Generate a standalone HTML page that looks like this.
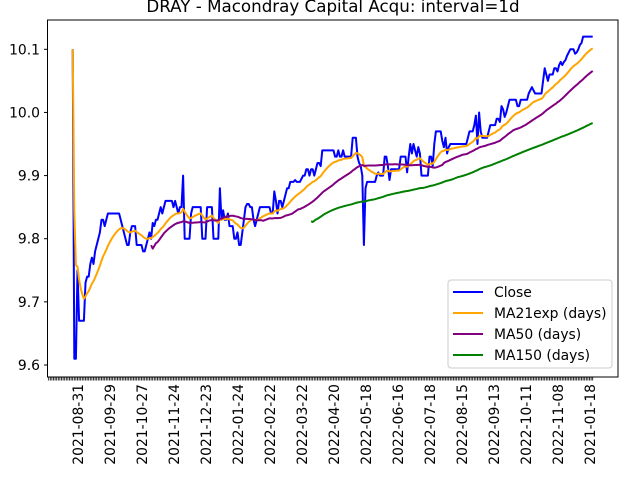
<!DOCTYPE html>
<html><head><meta charset="utf-8"><style>
html,body{margin:0;padding:0;background:#fff;}
svg{display:block;font-family:"DejaVu Sans","Liberation Sans",sans-serif;}
</style></head><body>
<svg id="chart" width="640" height="480" viewBox="0 0 640 480" xmlns="http://www.w3.org/2000/svg">
<rect x="0" y="0" width="640" height="480" fill="#fff"/>
<text x="333" y="12" text-anchor="middle" font-size="16.7" fill="#000">DRAY - Macondray Capital Acqu: interval=1d</text>
<g id="series"></g>
<rect x="47.5" y="20" width="570.5" height="357" fill="none" stroke="#000" stroke-width="1"/>
<g id="yaxis"></g>
<g id="xaxis"></g>
<g>
<rect x="448" y="280" width="164" height="88" rx="3" fill="#fff" fill-opacity="0.8" stroke="#ccc" stroke-width="1"/>
<g><line x1="453" y1="292" x2="483" y2="292" stroke="#0000ff" stroke-width="2"/><text x="494" y="297" font-size="13.9">Close</text></g>
<g><line x1="453" y1="313" x2="483" y2="313" stroke="#ffa500" stroke-width="2"/><text x="494" y="318" font-size="13.9">MA21exp (days)</text></g>
<g><line x1="453" y1="334" x2="483" y2="334" stroke="#800080" stroke-width="2"/><text x="494" y="339" font-size="13.9">MA50 (days)</text></g>
<g><line x1="453" y1="355" x2="483" y2="355" stroke="#008000" stroke-width="2"/><text x="494" y="360" font-size="13.9">MA150 (days)</text></g>
</g>
</svg>
<script>
const closeValues = [
10.10,9.61,9.61,9.75,9.67,9.67,9.67,9.67,9.73,9.74,
9.74,9.76,9.77,9.76,9.78,9.79,9.80,9.81,9.83,9.83,
9.82,9.83,9.84,9.84,9.84,9.84,9.84,9.84,9.84,9.84,
9.83,9.82,9.81,9.80,9.79,9.79,9.81,9.82,9.82,9.82,
9.79,9.79,9.79,9.79,9.78,9.78,9.79,9.80,9.81,9.80,
9.825,9.82,9.83,9.83,9.84,9.85,9.84,9.85,9.86,9.86,
9.86,9.86,9.86,9.85,9.86,9.85,9.84,9.85,9.85,9.90,
9.80,9.80,9.80,9.80,9.84,9.85,9.85,9.85,9.85,9.85,
9.85,9.80,9.80,9.80,9.85,9.85,9.85,9.85,9.80,9.80,
9.80,9.80,9.88,9.83,9.845,9.83,9.83,9.84,9.82,9.82,
9.82,9.80,9.80,9.81,9.79,9.79,9.81,9.83,9.85,9.855,
9.855,9.85,9.85,9.83,9.82,9.83,9.84,9.85,9.85,9.85,
9.85,9.85,9.85,9.85,9.84,9.84,9.875,9.86,9.84,9.86,
9.86,9.85,9.86,9.87,9.88,9.88,9.89,9.89,9.89,9.893,
9.89,9.89,9.89,9.895,9.90,9.90,9.91,9.91,9.90,9.91,
9.91,9.90,9.91,9.92,9.92,9.915,9.94,9.94,9.94,9.94,
9.94,9.94,9.94,9.94,9.93,9.93,9.94,9.93,9.93,9.94,
9.93,9.93,9.93,9.93,9.93,9.96,9.96,9.96,9.93,9.92,
9.915,9.90,9.79,9.88,9.89,9.89,9.89,9.89,9.89,9.89,
9.90,9.905,9.90,9.90,9.90,9.93,9.93,9.915,9.893,9.91,
9.91,9.91,9.91,9.91,9.91,9.93,9.93,9.93,9.93,9.905,
9.93,9.95,9.935,9.95,9.94,9.93,9.945,9.935,9.90,9.90,
9.90,9.90,9.90,9.93,9.93,9.915,9.95,9.97,9.97,9.97,
9.97,9.955,9.945,9.96,9.935,9.945,9.95,9.95,9.95,9.95,
9.95,9.95,9.95,9.95,9.95,9.95,9.95,9.96,9.97,9.97,
9.97,9.98,9.995,9.95,10.0,9.97,9.96,9.96,9.96,9.96,
9.97,9.98,9.98,9.98,9.98,9.99,9.99,9.985,10.01,10.005,
9.993,10.0,10.01,10.02,10.02,10.02,10.02,10.02,10.01,10.01,
10.02,10.02,10.02,10.02,10.02,10.03,10.035,10.04,10.035,10.03,
10.03,10.03,10.03,10.03,10.05,10.07,10.06,10.05,10.06,10.06,
10.06,10.07,10.07,10.065,10.075,10.08,10.075,10.08,10.083,10.09,
10.095,10.10,10.10,10.10,10.093,10.095,10.10,10.107,10.11,10.12,
10.12,10.12,10.12,10.12,10.12,10.12
];
const yTickValues = [9.6, 9.7, 9.8, 9.9, 10.0, 10.1];
const yTickLabels = ["9.6", "9.7", "9.8", "9.9", "10.0", "10.1"];
const xTickLabels = ["2021-08-31","2021-09-29","2021-10-27","2021-11-24","2021-12-23","2022-01-24","2022-02-22","2022-03-22","2022-04-20","2022-05-18","2022-06-16","2022-07-18","2022-08-15","2022-09-13","2022-10-11","2022-11-08","2021-01-18"];

const NS = "http://www.w3.org/2000/svg";
function xScale(i){ return 72.7 + 1.6 * i; }
function yScale(v){ return 49.3 + (10.1 - v) * 631.4; }

function ema(arr, span){
  const a = 2/(span+1); let num = 0, den = 0; const out = [];
  for (let i = 0; i < arr.length; i++){ num = arr[i] + (1-a)*num; den = 1 + (1-a)*den; out.push(num/den); }
  return out;
}
function sma(arr, n){
  const out = [];
  for (let i = 0; i < arr.length; i++){
    if (i < n-1){ out.push(null); continue; }
    let s = 0; for (let j = i-n+1; j <= i; j++) s += arr[j]; out.push(s/n);
  }
  return out;
}
const ma21 = ema(closeValues, 21);
const ma50 = sma(closeValues, 50);
const ma150 = sma(closeValues, 150);

const seriesG = document.getElementById('series');
function drawLine(vals, color, name){
  let d = "";
  vals.forEach((v,i)=>{ if (v===null) return; d += (d? "L":"M") + xScale(i).toFixed(2) + "," + yScale(v).toFixed(2); });
  const p = document.createElementNS(NS, 'path');
  p.setAttribute('d', d);
  p.setAttribute('fill', 'none');
  p.setAttribute('stroke', color);
  p.setAttribute('stroke-width', '2');
  p.setAttribute('stroke-linejoin', 'round');
  
  
  seriesG.appendChild(p);
}
drawLine(closeValues, '#0000ff', 'close-line');
drawLine(ma21, '#ffa500', 'ma21exp-line');
drawLine(ma50, '#800080', 'ma50-line');
drawLine(ma150, '#008000', 'ma150-line');

const yG = document.getElementById('yaxis');
yTickValues.forEach((v,k)=>{
  const y = yScale(v);
  const t = document.createElementNS(NS,'line');
  t.setAttribute('x1', 44); t.setAttribute('x2', 47.5); t.setAttribute('y1', y); t.setAttribute('y2', y);
  t.setAttribute('stroke', '#000');
  
  
  yG.appendChild(t);
  const tx = document.createElementNS(NS,'text');
  tx.setAttribute('x', 40); tx.setAttribute('y', y + 5);
  tx.setAttribute('text-anchor', 'end'); tx.setAttribute('font-size', '13.9');
  tx.textContent = yTickLabels[k];
  
  
  yG.appendChild(tx);
});

const xG = document.getElementById('xaxis');
for (let i = -15; i <= 325; i++){
  const x = xScale(i);
  const t = document.createElementNS(NS,'line');
  t.setAttribute('x1', x); t.setAttribute('x2', x); t.setAttribute('y1', 377); t.setAttribute('y2', 380.5);
  t.setAttribute('stroke', '#000'); t.setAttribute('stroke-width', '0.8');
  
  
  xG.appendChild(t);
}
xTickLabels.forEach((lab,k)=>{
  const x = xScale(3.3 + 20*k);
  const tx = document.createElementNS(NS,'text');
  tx.setAttribute('transform', 'translate(' + (x+5) + ',384) rotate(-90)');
  tx.setAttribute('text-anchor', 'end'); tx.setAttribute('font-size', '13.9');
  tx.textContent = lab;
  
  
  xG.appendChild(tx);
});
</script>
</body></html>
